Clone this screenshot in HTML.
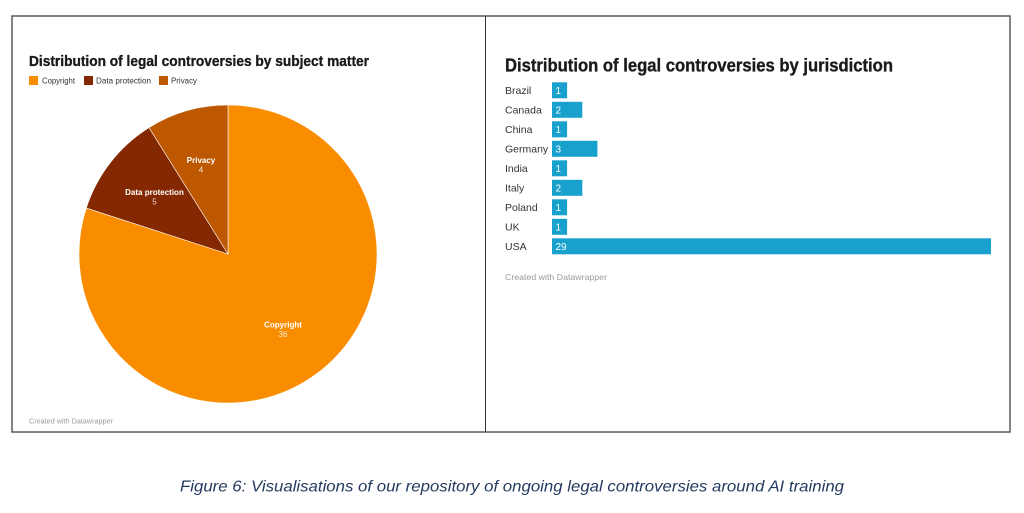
<!DOCTYPE html>
<html>
<head>
<meta charset="utf-8">
<style>
  html, body { margin:0; padding:0; background:#fff; }
  svg { display:block; }
  text { font-family: "Liberation Sans", "DejaVu Sans", sans-serif; }
</style>
</head>
<body>
<svg width="1024" height="513" viewBox="0 0 1024 513" xmlns="http://www.w3.org/2000/svg">
  <rect x="0" y="0" width="1024" height="513" fill="#fff"/>

  <!-- outer frame -->
  <rect x="12" y="16" width="998" height="416" fill="none" stroke="#5a5a5a" stroke-width="1.5"/>
  <line x1="485.5" y1="16" x2="485.5" y2="432" stroke="#333" stroke-width="1"/>

  <!-- LEFT: pie chart -->
  <text x="29" y="66" font-size="15" font-weight="bold" fill="#1a1a1a" stroke="#1a1a1a" stroke-width="0.35" textLength="340" lengthAdjust="spacingAndGlyphs">Distribution of legal controversies by subject matter</text>

  <rect x="29" y="76" width="9" height="9" fill="#fa8c00"/>
  <text x="42" y="83.5" font-size="8" fill="#333" textLength="33" lengthAdjust="spacingAndGlyphs">Copyright</text>
  <rect x="84" y="76" width="9" height="9" fill="#832800"/>
  <text x="96" y="83.5" font-size="8" fill="#333" textLength="55" lengthAdjust="spacingAndGlyphs">Data protection</text>
  <rect x="159" y="76" width="9" height="9" fill="#bd5800"/>
  <text x="171" y="83.5" font-size="8" fill="#333" textLength="26" lengthAdjust="spacingAndGlyphs">Privacy</text>

  <!-- pie slices: center 228,254 r 149 -->
  <path d="M228,254 L228,105 A149,149 0 1,1 86.3,208 Z" fill="#fa8c00" stroke="#fff" stroke-width="0.6"/>
  <path d="M228,254 L86.3,208 A149,149 0 0,1 149,127.6 Z" fill="#832800" stroke="#fff" stroke-width="0.6"/>
  <path d="M228,254 L149,127.6 A149,149 0 0,1 228,105 Z" fill="#bd5800" stroke="#fff" stroke-width="0.6"/>

  <text x="201" y="163" font-size="8" font-weight="bold" fill="#fff" text-anchor="middle">Privacy</text>
  <text x="201" y="172.5" font-size="8" fill="#fff" fill-opacity="0.85" text-anchor="middle">4</text>
  <text x="154.5" y="195" font-size="8" font-weight="bold" fill="#fff" text-anchor="middle">Data protection</text>
  <text x="154.5" y="204.5" font-size="8" fill="#fff" fill-opacity="0.85" text-anchor="middle">5</text>
  <text x="283" y="327.5" font-size="8" font-weight="bold" fill="#fff" text-anchor="middle">Copyright</text>
  <text x="283" y="337" font-size="8" fill="#fff" fill-opacity="0.85" text-anchor="middle">36</text>

  <text x="29" y="423.5" font-size="7" fill="#999" textLength="84" lengthAdjust="spacingAndGlyphs">Created with Datawrapper</text>

  <!-- RIGHT: bar chart -->
  <text x="505" y="71.5" font-size="18" font-weight="bold" fill="#1a1a1a" stroke="#1a1a1a" stroke-width="0.35" textLength="388" lengthAdjust="spacingAndGlyphs">Distribution of legal controversies by jurisdiction</text>

  <g font-size="10.5" fill="#333">
    <text x="505" y="94">Brazil</text>
    <text x="505" y="113.5">Canada</text>
    <text x="505" y="133">China</text>
    <text x="505" y="152.5">Germany</text>
    <text x="505" y="172">India</text>
    <text x="505" y="191.5">Italy</text>
    <text x="505" y="211">Poland</text>
    <text x="505" y="230.5">UK</text>
    <text x="505" y="250">USA</text>
  </g>

  <g fill="#18a1cd">
    <rect x="552" y="82.3" width="15.1" height="16"/>
    <rect x="552" y="101.8" width="30.3" height="16"/>
    <rect x="552" y="121.3" width="15.1" height="16"/>
    <rect x="552" y="140.8" width="45.4" height="16"/>
    <rect x="552" y="160.3" width="15.1" height="16"/>
    <rect x="552" y="179.8" width="30.3" height="16"/>
    <rect x="552" y="199.3" width="15.1" height="16"/>
    <rect x="552" y="218.8" width="15.1" height="16"/>
    <rect x="552" y="238.3" width="439" height="16"/>
  </g>
  <g font-size="10" fill="#fff">
    <text x="555.5" y="94">1</text>
    <text x="555.5" y="113.5">2</text>
    <text x="555.5" y="133">1</text>
    <text x="555.5" y="152.5">3</text>
    <text x="555.5" y="172">1</text>
    <text x="555.5" y="191.5">2</text>
    <text x="555.5" y="211">1</text>
    <text x="555.5" y="230.5">1</text>
    <text x="555.5" y="250">29</text>
  </g>

  <text x="505" y="280" font-size="8.5" fill="#999" textLength="102" lengthAdjust="spacingAndGlyphs">Created with Datawrapper</text>

  <!-- caption -->
  <text x="180" y="491.5" font-size="16" font-style="italic" fill="#243a5e" textLength="664" lengthAdjust="spacingAndGlyphs">Figure 6: Visualisations of our repository of ongoing legal controversies around AI training</text>
</svg>
</body>
</html>
